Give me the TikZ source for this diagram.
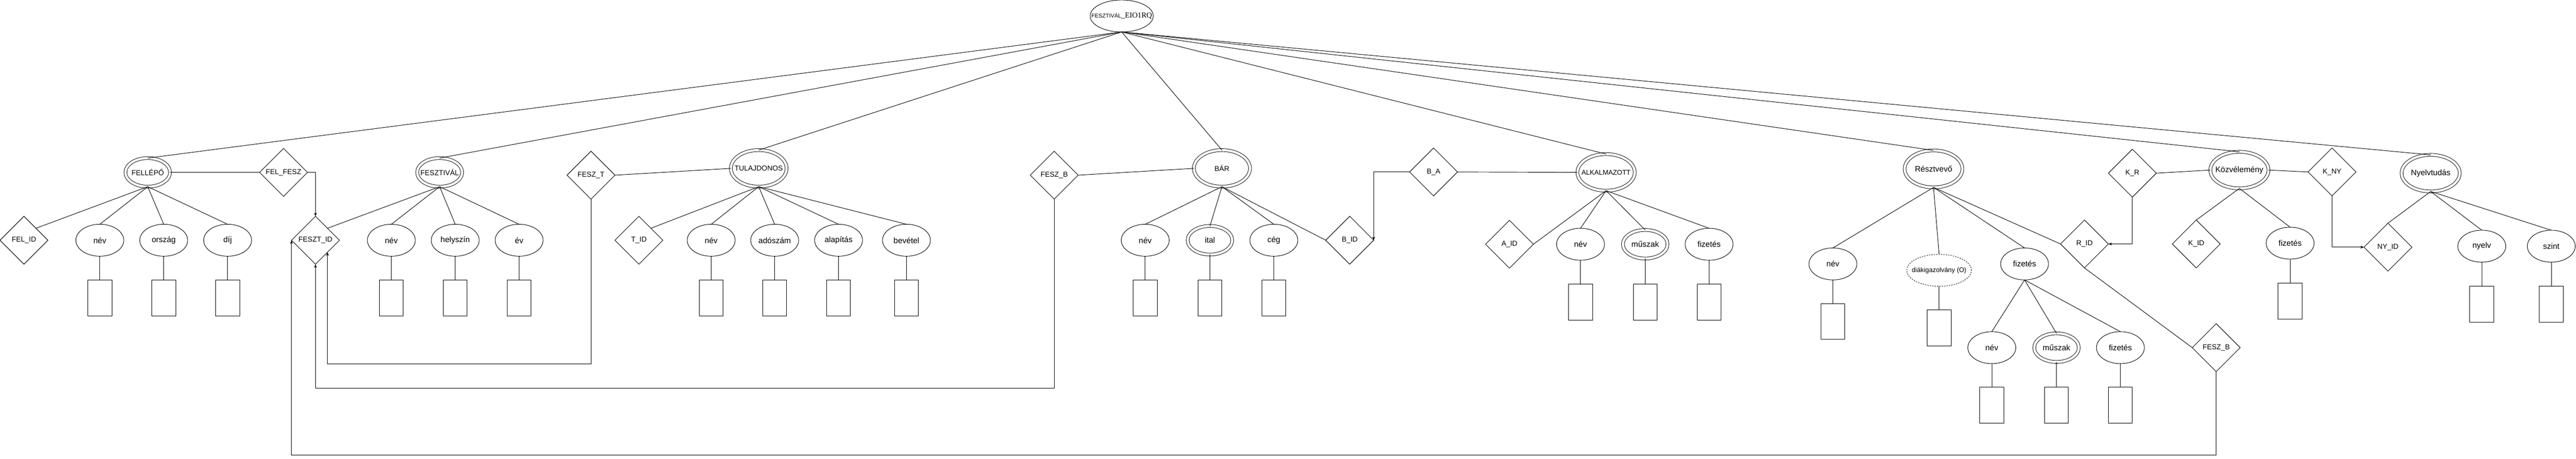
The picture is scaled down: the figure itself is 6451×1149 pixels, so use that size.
\documentclass[tikz,border=0pt]{standalone}
\usepackage{fontspec}
\setmainfont{Liberation Sans}
\newfontfamily\serifx{Liberation Serif}
\usetikzlibrary{shapes.geometric,arrows.meta}
\newcommand\mtxt[1]{\makebox[0pt]{#1}}
\newcommand\capf{\fontsize{18}{21}\selectfont}
\newcommand\lowf{\fontsize{20}{23}\selectfont}
\begin{document}
\begin{tikzpicture}[x=1pt,y=-1pt,
  line width=1.2pt,
  every node/.style={inner sep=0pt, outer sep=0pt},
  attr/.style={ellipse, draw, minimum width=120pt, minimum height=80pt, font=\lowf},
  dattr/.style={ellipse, draw, double, double distance=6pt, minimum width=111.6pt, minimum height=71.6pt, font=\lowf},
  ent/.style={ellipse, draw, double, double distance=6pt},
  rel/.style={diamond, draw, aspect=1, minimum width=120pt, minimum height=120pt, font=\capf},
  val/.style={rectangle, draw, minimum width=60pt, minimum height=90pt},
  arr/.style={-{Stealth[length=9pt,width=7pt]}}
]
\useasboundingbox (0,0) rectangle (6451,1149);

% top entity
\node[ellipse, draw, minimum width=158pt, minimum height=80pt] (top) at (2809,40)
  {\mtxt{\fontsize{14}{16}\selectfont FESZTIVÁL\serifx\fontsize{19}{22}\selectfont\_EIO1RQ}};

% entities
\node[ent, minimum width=111.6pt, minimum height=71.6pt, font=\capf] (fel) at (370,431.7) {\mtxt{FELLÉPŐ}};
\node[ent, minimum width=112.6pt, minimum height=71.6pt, font=\capf] (fesz) at (1101,431.7) {\mtxt{FESZTIVÁL}};
\node[ent, minimum width=139.6pt, minimum height=91.6pt, font=\capf] (tul) at (1900,421.7) {\mtxt{TULAJDONOS}};
\node[ent, minimum width=140.6pt, minimum height=91.6pt, font=\capf] (bar) at (3060,421.7) {\mtxt{BÁR}};
\node[ent, minimum width=143.6pt, minimum height=91.6pt, font=\fontsize{17}{20}\selectfont] (alk) at (4022,431.7) {\mtxt{ALKALMAZOTT}};
\node[ent, minimum width=144.6pt, minimum height=92.6pt, font=\lowf] (res) at (4842,423) {\mtxt{Résztvevő}};
\node[ent, minimum width=145.6pt, minimum height=91.6pt, font=\lowf] (koz) at (5608,426) {\mtxt{Közvélemény}};
\node[ent, minimum width=145.6pt, minimum height=91.6pt, font=\lowf] (nyt) at (6087,433.7) {\mtxt{Nyelvtudás}};

% relationships / keys
\node[rel] (felid) at (60,601.7) {FEL\_ID};
\node[rel] (felfesz) at (710,431.7) {FEL\_FESZ};
\node[rel] (feszt) at (790,601.7) {FESZT\_ID};
\node[rel] (feszT) at (1480,438.7) {FESZ\_T};
\node[rel] (tid) at (1600,601.7) {T\_ID};
\node[rel] (feszbA) at (2640,438.7) {FESZ\_B};
\node[rel] (bid) at (3380,601.7) {B\_ID};
\node[rel] (ba) at (3590,430.7) {B\_A};
\node[rel] (aid) at (3780,611.7) {A\_ID};
\node[rel] (rid) at (5220,611) {R\_ID};
\node[rel] (kr) at (5340,433.7) {K\_R};
\node[rel] (kid) at (5500,611) {K\_ID};
\node[rel] (kny) at (5840,430.6) {K\_NY};
\node[rel] (nyid) at (5980,619) {NY\_ID};
\node[rel] (feszbB) at (5550,870.7) {FESZ\_B};

% attributes
\node[attr] (a1) at (250,601.7) {név};
\node[attr] (a2) at (410,601.7) {ország};
\node[attr] (a3) at (570,601.7) {díj};
\node[attr] (a4) at (980,601.7) {név};
\node[attr] (a5) at (1140,601.7) {helyszín};
\node[attr] (a6) at (1300,601.7) {év};
\node[attr] (a7) at (1781,601.7) {név};
\node[attr] (a8) at (1940,601.7) {adószám};
\node[attr] (a9) at (2100,601.7) {alapítás};
\node[attr] (a10) at (2270,601.7) {bevétel};
\node[attr] (a11) at (2868,601.7) {név};
\node[dattr] (a12) at (3030,601.7) {ital};
\node[attr] (a13) at (3190,601.7) {cég};
\node[attr] (a14) at (3958,611.7) {név};
\node[dattr] (a15) at (4120,611.7) {műszak};
\node[attr] (a16) at (4280,611.7) {fizetés};
\node[attr] (a17) at (4590,661) {név};
\node[ellipse, draw, dash pattern=on 3pt off 3pt, minimum width=162pt, minimum height=80pt, font=\fontsize{16.5}{19}\selectfont] (a18) at (4856,677) {\mtxt{diákigazolvány (O)}};
\node[attr] (a19) at (5070,661) {fizetés};
\node[attr] (a20) at (4988,870.7) {név};
\node[dattr] (a21) at (5150,870.7) {műszak};
\node[attr] (a22) at (5310,870.7) {fizetés};
\node[attr] (a23) at (5735,609) {fizetés};
\node[attr] (a24) at (6215,616.6) {nyelv};
\node[attr] (a25) at (6389,616.6) {szint};

% value boxes
\foreach \n/\x/\y in {1/250/746.7,2/410/746.7,3/570/746.7,4/980/746.7,5/1140/746.7,6/1300/746.7,
  7/1781/746.7,8/1940/746.7,9/2100/746.7,10/2270/746.7,11/2868/746.7,12/3030/746.7,13/3190/746.7,
  14/3958/756.7,15/4120/756.7,16/4280/756.7,17/4590/805,18/4856/821,
  20/4988/1015,21/5150/1015,22/5310/1015,23/5735/754,24/6215/761.5,25/6389/761.5}
  {\node[val] (r\n) at (\x,\y) {};
   \draw (a\n.south) -- (r\n.north);}

% top links
\foreach \e in {fel,fesz,tul,bar,alk,res,koz,nyt}
  \draw (top.south) -- (\e.north);

% FELLÉPŐ
\draw (fel.south) -- (felid.north east);
\foreach \a in {a1,a2,a3} \draw (fel.south) -- (\a.north);
\draw (fel.east) -- (felfesz.west);
\draw[arr] (felfesz.east) -| (feszt.north);

% FESZTIVÁL
\draw (fesz.south) -- (feszt.north east);
\foreach \a in {a4,a5,a6} \draw (fesz.south) -- (\a.north);

% TULAJDONOS
\draw (feszT.east) -- (tul.west);
\draw (tul.south) -- (tid.north east);
\foreach \a in {a7,a8,a9,a10} \draw (tul.south) -- (\a.north);

% BÁR
\draw (feszbA.east) -- (bar.west);
\foreach \a in {a11,a12,a13} \draw (bar.south) -- (\a.north);
\draw (bar.south) -- (bid.west);
\draw (ba.east) -- (alk.west);
\draw[arr] (ba.west) -| (bid.east);

% ALKALMAZOTT
\draw (alk.south) -- (aid.east);
\foreach \a in {a14,a15,a16} \draw (alk.south) -- (\a.north);

% Résztvevő
\foreach \a in {a17,a18,a19} \draw (res.south) -- (\a.north);
\draw (res.south) -- (rid.west);
\foreach \a in {a20,a21,a22} \draw (a19.south) -- (\a.north);
\draw (rid.south) -- (feszbB.west);

% Közvélemény
\draw (kr.east) -- (koz.west);
\draw[arr] (kr.south) |- (rid.east);
\draw (koz.east) -- (kny.west);
\draw[arr] (kny.south) |- (nyid.west);
\draw (koz.south) -- (kid.north);
\draw (koz.south) -- (a23.north);

% Nyelvtudás
\draw (nyt.south) -- (nyid.north);
\draw (nyt.south) -- (a24.north);
\draw (nyt.south) -- (a25.north);

% long connectors into FESZT_ID
\coordinate (c1) at (820,911);
\coordinate (c2) at (790,971.7);
\coordinate (c3) at (730,1140);
\draw[arr] (feszT.south) |- (c1) -- (feszt.south east);
\draw[arr] (feszbA.south) |- (c2) -- (feszt.south);
\draw[arr] (feszbB.south) |- (c3) -- (feszt.west);
\end{tikzpicture}
\end{document}
